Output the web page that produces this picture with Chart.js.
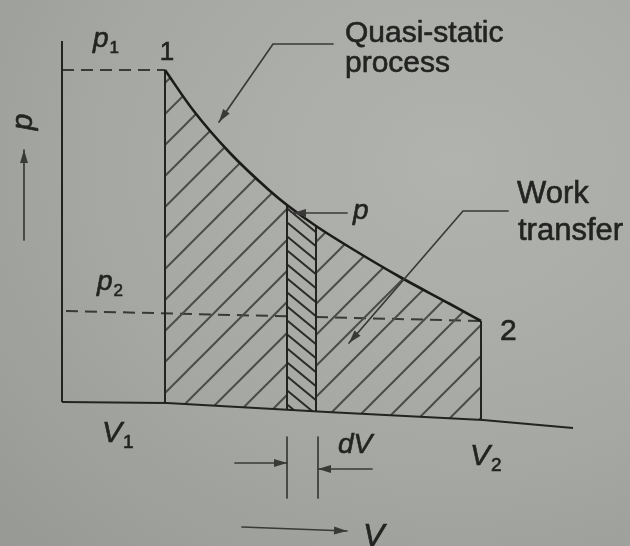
<!DOCTYPE html>
<html>
<head>
<meta charset="utf-8">
<script src="https://cdn.jsdelivr.net/npm/chart.js@4.4.1/dist/chart.umd.min.js"></script>
<style>
  html, body { margin: 0; padding: 0; }
  body {
    width: 630px; height: 546px; overflow: hidden;
    background: radial-gradient(ellipse at 72% 30%, #b1b3af 0%, #a7a9a5 50%, #979995 100%);
  }
  #wrap { position: relative; width: 630px; height: 546px; }
</style>
</head>
<body>
<div id="wrap"><canvas id="pv"></canvas></div>
<script>
// p-V diagram: work done in a quasi-static expansion from state 1 to state 2

// process path 1 -> 2 (V, p)
const curveV = [2.06, 2.62, 3.36, 4.16, 4.50, 5.08, 5.76, 6.76, 7.76, 8.38];
const curveP = [6.64, 5.84, 4.98, 4.22, 3.94, 3.52, 3.09, 2.50, 1.96, 1.62];
// the elementary strip of width dV
const dV = [4.50, 5.08];
// V axis as drawn, it sags slightly toward the right
const axisV = [0, 2.10, 5.30, 8.42, 10.22];
const axisP = [0, -0.02, -0.20, -0.36, -0.52];
// p axis height
const pAxisTop = 7.22;
// left end of the p2 guide line
const p2GuideStart = [0.08, 1.82];

const INK = '#232422';
const SOFT = '#393a38';

const V1 = curveV[0], p1 = curveP[0];
const V2 = curveV[curveV.length - 1], p2 = curveP[curveP.length - 1];

function interp(xs, ys, v) {
  for (let i = 1; i < xs.length; i++) {
    if (v <= xs[i]) {
      const t = (v - xs[i - 1]) / (xs[i] - xs[i - 1]);
      return ys[i - 1] + t * (ys[i] - ys[i - 1]);
    }
  }
  return ys[ys.length - 1];
}
const axisAt = v => interp(axisV, axisP, v);
const curveAt = v => interp(curveV, curveP, v);
const guideAt = v => interp([p2GuideStart[0], V2], [p2GuideStart[1], p2], v);
const pts = (vs, ps) => vs.map((v, i) => ({ x: v, y: ps[i] }));

const canvas = document.getElementById('pv');
const c2d = canvas.getContext('2d');

// diagonal hatch tile; dir 1 = "/", dir -1 = "\"
function hatch(w, h, dir, color, width) {
  const tile = document.createElement('canvas');
  tile.width = w; tile.height = h;
  const t = tile.getContext('2d');
  t.strokeStyle = color;
  t.lineWidth = width;
  for (let k = -1; k <= 1; k++) {
    t.beginPath();
    if (dir > 0) {
      t.moveTo(-w, 2 * h + k * h);
      t.lineTo(2 * w, -h + k * h);
    } else {
      t.moveTo(-w, -h + k * h);
      t.lineTo(2 * w, 2 * h + k * h);
    }
    t.stroke();
  }
  return c2d.createPattern(tile, 'repeat');
}
const areaHatch = hatch(31, 31, 1, '#4b4d4a', 2);
const stripHatch = hatch(17, 14, -1, '#2a2b29', 2);

const curvePts = pts(curveV, curveP);
const AXIS = 0; // dataset index used as the fill boundary

const line = (data, extra) => Object.assign({
  data, borderColor: INK, borderWidth: 2, fill: false, tension: 0, order: 2
}, extra);
const dashed = { borderDash: [12, 7], borderColor: SOFT, order: 7 };

const datasets = [
  line(pts(axisV, axisP), { borderWidth: 2.2 }),
  line([{ x: 0, y: 0 }, { x: 0, y: pAxisTop }], { borderWidth: 2 }),
  // work area under the path, split round the dV strip
  line(curvePts.filter(d => d.x <= dV[0]), {
    fill: AXIS, backgroundColor: areaHatch, borderWidth: 0,
    cubicInterpolationMode: 'monotone', order: 6
  }),
  line(curvePts.filter(d => d.x >= dV[1]), {
    fill: AXIS, backgroundColor: areaHatch, borderWidth: 0,
    cubicInterpolationMode: 'monotone', order: 6
  }),
  line(curvePts.filter(d => d.x >= dV[0] && d.x <= dV[1]), {
    fill: AXIS, backgroundColor: stripHatch, borderWidth: 0, order: 5
  }),
  // guide lines at p1 and p2 (the p2 one is hidden behind the strip)
  line([{ x: 0, y: p1 }, { x: V1, y: p1 }], dashed),
  line([{ x: p2GuideStart[0], y: p2GuideStart[1] }, { x: dV[0], y: guideAt(dV[0]) }], dashed),
  line([{ x: dV[1], y: guideAt(dV[1]) }, { x: V2, y: p2 }], dashed),
  // verticals at V1, V2 and the strip edges
  ...[V1, dV[0], dV[1], V2].map(v =>
    line([{ x: v, y: axisAt(v) }, { x: v, y: curveAt(v) }], { borderWidth: 2 })),
  // the process path itself
  line(curvePts, {
    borderColor: '#1b1b1a', borderWidth: 2.6, cubicInterpolationMode: 'monotone', order: 0
  })
];

// labels, leaders and dimension arrows, placed in (V, p) units
const leaders = [
  { path: [[5.42, 7.16], [4.22, 7.16], [3.14, 5.60]], head: true },
  { path: [[8.92, 3.82], [8.02, 3.82], [5.74, 1.18]], head: true },
  { path: [[5.70, 3.78], [4.62, 3.78]], head: true },
  { path: [[3.46, -1.22], [dV[0], -1.22]], head: true },
  { path: [[6.20, -1.34], [dV[1] + 0.04, -1.34]], head: true },
  { path: [[dV[0], -0.70], [dV[0], -1.92]] },
  { path: [[dV[1] + 0.04, -0.70], [dV[1] + 0.04, -1.92]] },
  { path: [[3.60, -2.50], [5.70, -2.58]], head: true },
  { path: [[-0.76, 3.24], [-0.76, 5.04]], head: true }
];
const labels = [
  { text: 'Quasi-static', v: 5.66, p: 7.20, size: 30 },
  { text: 'process', v: 5.66, p: 6.60, size: 30 },
  { text: 'Work', v: 9.10, p: 3.98, size: 31 },
  { text: 'transfer', v: 9.12, p: 3.24, size: 31 },
  { text: '1', v: 2.10, p: 6.84, size: 26, align: 'center' },
  { text: '2', v: 8.76, p: 1.24, size: 30 },
  { text: 'p', sub: '1', v: 0.62, p: 7.10, size: 28, italic: true },
  { text: 'p', sub: '2', v: 0.70, p: 2.24, size: 28, italic: true },
  { text: 'p', v: 5.82, p: 3.66, size: 28, italic: true },
  { text: 'V', sub: '1', v: 0.80, p: -0.80, size: 30, italic: true },
  { text: 'dV', v: 5.52, p: -1.02, size: 28, italic: true },
  { text: 'V', sub: '2', v: 8.16, p: -1.26, size: 30, italic: true },
  { text: 'V', v: 6.02, p: -2.88, size: 32, italic: true },
  { text: 'p', v: -0.76, p: 5.60, size: 30, italic: true, rotate: -Math.PI / 2 }
];

const font = (size, italic) =>
  `${italic ? 'italic ' : ''}${size}px "Liberation Sans", Arial, sans-serif`;

function ink(ctx, text, x, y) {
  ctx.fillText(text, x, y);
  ctx.strokeText(text, x, y);
}

const notes = {
  id: 'notes',
  afterDatasetsDraw(chart) {
    const { ctx, scales: { x, y } } = chart;
    const X = v => x.getPixelForValue(v);
    const Y = p => y.getPixelForValue(p);
    ctx.save();
    ctx.strokeStyle = SOFT;
    ctx.fillStyle = SOFT;
    ctx.lineWidth = 1.7;
    ctx.lineCap = 'round';
    for (const l of leaders) {
      const pp = l.path.map(([v, p]) => [X(v), Y(p)]);
      ctx.beginPath();
      pp.forEach(([px, py], i) => (i ? ctx.lineTo(px, py) : ctx.moveTo(px, py)));
      ctx.stroke();
      if (l.head) {
        const [ax, ay] = pp[pp.length - 2];
        const [bx, by] = pp[pp.length - 1];
        const a = Math.atan2(by - ay, bx - ax);
        ctx.beginPath();
        ctx.moveTo(bx, by);
        ctx.lineTo(bx - 13 * Math.cos(a) + 4 * Math.sin(a), by - 13 * Math.sin(a) - 4 * Math.cos(a));
        ctx.lineTo(bx - 13 * Math.cos(a) - 4 * Math.sin(a), by - 13 * Math.sin(a) + 4 * Math.cos(a));
        ctx.closePath();
        ctx.fill();
      }
    }
    ctx.fillStyle = INK;
    ctx.strokeStyle = INK;
    ctx.lineWidth = 0.6;
    for (const t of labels) {
      ctx.font = font(t.size, t.italic);
      const px = X(t.v), py = Y(t.p);
      if (t.rotate) {
        ctx.save();
        ctx.translate(px, py);
        ctx.rotate(t.rotate);
        ctx.textAlign = 'center';
        ctx.textBaseline = 'middle';
        ink(ctx, t.text, 0, 0);
        ctx.restore();
        continue;
      }
      ctx.textAlign = t.align || 'left';
      ctx.textBaseline = 'alphabetic';
      ink(ctx, t.text, px, py);
      if (t.sub) {
        const w = ctx.measureText(t.text).width;
        ctx.font = font(Math.round(t.size * 0.62), false);
        ink(ctx, t.sub, px + w + 1, py + t.size * 0.2);
      }
    }
    ctx.restore();
  }
};

const PX = 50; // pixels per unit on both axes
new Chart(canvas, {
  type: 'line',
  data: { datasets },
  options: {
    responsive: true,
    maintainAspectRatio: false,
    animation: false,
    layout: { padding: 0 },
    elements: { point: { radius: 0, hoverRadius: 0 } },
    plugins: { legend: { display: false }, tooltip: { enabled: false } },
    events: [],
    scales: {
      x: { type: 'linear', display: false, min: -62 / PX, max: 568 / PX },
      y: { type: 'linear', display: false, min: -144 / PX, max: 402 / PX }
    }
  },
  plugins: [notes]
});
</script>
</body>
</html>
